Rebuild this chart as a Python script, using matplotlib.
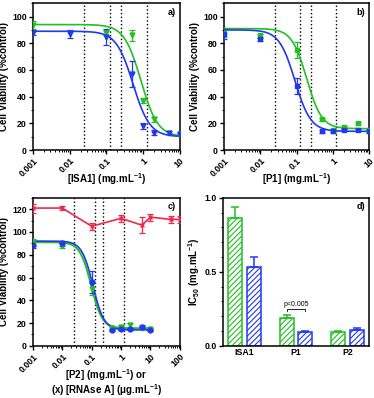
import numpy as np
import matplotlib
matplotlib.use('Agg')
import matplotlib.pyplot as plt
from matplotlib.ticker import FixedLocator, LogLocator, NullFormatter, MultipleLocator

plt.rcParams['font.family'] = ['Liberation Sans', 'DejaVu Sans']
plt.rcParams['font.weight'] = 'bold'
plt.rcParams['mathtext.fontset'] = 'custom'
plt.rcParams['mathtext.rm'] = 'Liberation Sans:bold'
plt.rcParams['mathtext.it'] = 'Liberation Sans:bold'
plt.rcParams['mathtext.bf'] = 'Liberation Sans:bold'
plt.rcParams['hatch.linewidth'] = 0.8

GREEN = '#22c022'
BLUE = '#2038f0'
RED = '#f0284a'

# concentrations (mg/mL)
conc = [0.001, 0.01, 0.1, 0.5, 1, 2, 5, 10]
conc_rnase = [0.001, 0.01, 0.1, 1, 5, 10, 50, 100]

# panel a - ISA1
isa1_green = [94, None, 88, 86, 37, 23, None, 12]
isa1_green_err = [3, 0, 2, 4, 2, 2, 0, 1]
isa1_blue = [88, 87, 85, 57, 18, 13, 13, 12]
isa1_blue_err = [2, 3, 6, 10, 2, 2, 1, 1]

# panel b - P1
p1_green = [88, 86, 75, 23, 15, 17, 20, 15]
p1_green_err = [3, 1, 6, 1, 1, 1, 1, 1]
p1_blue = [87, 83, 48, 14, 14, 15, 15, 14]
p1_blue_err = [4, 1, 6, 1, 1, 1, 1, 1]

# panel c - P2 and RNAse A
p2_green = [91, 88, 50, 16, 17, 18, 16, 15]
p2_green_err = [3, 2, 5, 1, 1, 2, 1, 1]
p2_blue = [89, 90, 56, 14, 15, 15, 17, 14]
p2_blue_err = [3, 2, 10, 1, 1, 1, 1, 1]
rnase = [121, 121, 105, 112, 106, 113, 111, 111]
rnase_err = [4, 2, 3, 3, 7, 3, 3, 3]

# fitted dose-response parameters: top, bottom, IC50, hill
fit_isa1_green = [94, 10, 0.87, 1.9]
fit_isa1_blue = [89, 10, 0.53, 1.9]
fit_p1_green = [91, 16, 0.19, 2.1]
fit_p1_blue = [90, 14, 0.09, 2.0]
fit_p2_green = [91, 15.5, 0.095, 2.3]
fit_p2_blue = [92, 14, 0.11, 2.3]

# dotted reference lines
vlines = [0.025, 0.125, 0.25, 1.25]

# panel d - IC50 bars
groups = ['ISA1', 'P1', 'P2']
ic50_green = [0.865, 0.187, 0.093]
ic50_green_err = [0.072, 0.023, 0.006]
ic50_blue = [0.53, 0.093, 0.11]
ic50_blue_err = [0.068, 0.007, 0.01]


def logistic(x, p):
    top, bottom, ic50, hill = p
    return bottom + (top - bottom) / (1 + (x / ic50) ** hill)


def pts(ax, x, y, e, color, marker):
    xs = [a for a, b in zip(x, y) if b is not None]
    ys = [b for b in y if b is not None]
    es = [c for b, c in zip(y, e) if b is not None]
    ax.errorbar(xs, ys, yerr=es, fmt=marker, color=color, ms=3.5,
                capsize=2, elinewidth=0.9, capthick=0.9, zorder=4)


def style_dose(ax, xmax, ymax, label, tag):
    ax.set_xscale('log')
    ax.set_xlim(0.001, xmax)
    ax.set_ylim(0, ymax)
    majors = [10.0 ** k for k in range(-3, int(np.log10(xmax)) + 1)]
    ax.xaxis.set_major_locator(FixedLocator(majors))
    ax.set_xticklabels(['%g' % m for m in majors], rotation=45, ha='right',
                       rotation_mode='anchor', fontsize=5.8, fontweight='bold')
    ax.xaxis.set_minor_locator(LogLocator(base=10, subs=np.arange(2, 10)))
    ax.xaxis.set_minor_formatter(NullFormatter())
    ax.yaxis.set_major_locator(MultipleLocator(20))
    ax.yaxis.set_minor_locator(MultipleLocator(10))
    for v in vlines:
        ax.axvline(v, color='black', ls=':', lw=1.0, zorder=1)
    ax.set_ylabel('Cell Viability (%control)', fontsize=7, fontweight='bold', labelpad=2)
    if label:
        ax.set_xlabel(label, fontsize=7, fontweight='bold')
        ax.xaxis.set_label_coords(0.5, -0.145)
    ax.text(0.97, 0.97, tag, transform=ax.transAxes, ha='right', va='top',
            fontsize=6.5, fontweight='bold')
    common(ax)


def common(ax):
    for s in ax.spines.values():
        s.set_linewidth(1.1)
    ax.tick_params(which='major', length=3, width=1, labelsize=6.3, pad=1.5)
    ax.tick_params(which='minor', length=1.5, width=0.7)
    for t in ax.get_yticklabels():
        t.set_fontweight('bold')


fig = plt.figure(figsize=(3.74, 3.98), dpi=100)
ax_a = fig.add_axes([0.088, 0.623, 0.393, 0.369])
ax_b = fig.add_axes([0.599, 0.623, 0.388, 0.369])
ax_c = fig.add_axes([0.088, 0.131, 0.393, 0.372])
ax_d = fig.add_axes([0.596, 0.131, 0.391, 0.372])

xx = np.logspace(-3, 1, 300)

# a
ax_a.plot(xx, logistic(xx, fit_isa1_green), color=GREEN, lw=1.2, zorder=3)
ax_a.plot(xx, logistic(xx, fit_isa1_blue), color=BLUE, lw=1.2, zorder=3)
pts(ax_a, conc, isa1_green, isa1_green_err, GREEN, 'v')
pts(ax_a, conc, isa1_blue, isa1_blue_err, BLUE, 'v')
style_dose(ax_a, 10, 110, '[ISA1] (mg.mL$^{-1}$)', 'a)')

# b
ax_b.plot(xx, logistic(xx, fit_p1_green), color=GREEN, lw=1.2, zorder=3)
ax_b.plot(xx, logistic(xx, fit_p1_blue), color=BLUE, lw=1.2, zorder=3)
pts(ax_b, conc, p1_green, p1_green_err, GREEN, 's')
pts(ax_b, conc, p1_blue, p1_blue_err, BLUE, 's')
style_dose(ax_b, 10, 110, '[P1] (mg.mL$^{-1}$)', 'b)')

# c
ax_c.plot(xx, logistic(xx, fit_p2_green), color=GREEN, lw=1.4, zorder=3)
ax_c.plot(xx, logistic(xx, fit_p2_blue), color=BLUE, lw=1.2, zorder=3)
pts(ax_c, conc, p2_green, p2_green_err, GREEN, 'v')
pts(ax_c, conc, p2_blue, p2_blue_err, BLUE, 'o')
ax_c.errorbar(conc_rnase, rnase, yerr=rnase_err, fmt='-x', color=RED, ms=3.5,
              lw=1.2, capsize=2, elinewidth=0.9, capthick=0.9, zorder=4)
style_dose(ax_c, 100, 130, None, 'c)')
# two-line x label of panel c
xc = 0.088 + 0.393 / 2
fig.text(xc, 0.058, '[P2] (mg.mL$^{-1}$) or', ha='center', va='center',
         fontsize=7, fontweight='bold')
fig.text(xc, 0.020, '(x) [RNAse A] ($\\mu$g.mL$^{-1}$)', ha='center', va='center',
         fontsize=7, fontweight='bold')

# d
pos = np.arange(len(groups))
w = 0.27
ax_d.bar(pos - 0.18, ic50_green, w, color='white', edgecolor=GREEN, hatch='//////',
         lw=1.1, zorder=2)
ax_d.bar(pos + 0.18, ic50_blue, w, color='white', edgecolor=BLUE, hatch='//////',
         lw=1.1, zorder=2)
ax_d.errorbar(pos - 0.18, ic50_green, yerr=[[0] * 3, ic50_green_err], fmt='none',
              ecolor=GREEN, capsize=3, elinewidth=1.1, capthick=1.1)
ax_d.errorbar(pos + 0.18, ic50_blue, yerr=[[0] * 3, ic50_blue_err], fmt='none',
              ecolor=BLUE, capsize=3, elinewidth=1.1, capthick=1.1)
ax_d.set_xlim(-0.42, 2.42)
ax_d.set_ylim(0, 1.0)
ax_d.set_xticks(pos)
ax_d.set_xticklabels(groups, fontsize=7, fontweight='bold')
ax_d.yaxis.set_major_locator(MultipleLocator(0.5))
ax_d.yaxis.set_minor_locator(MultipleLocator(0.1))
ax_d.yaxis.set_major_formatter(plt.FormatStrFormatter('%.1f'))
ax_d.set_ylabel('IC$_{50}$ (mg.mL$^{-1}$)', fontsize=7, fontweight='bold', labelpad=2)
ax_d.text(0.97, 0.97, 'd)', transform=ax_d.transAxes, ha='right', va='top',
          fontsize=6.5, fontweight='bold')
# significance bracket
by = 0.25
ax_d.plot([0.82, 0.82, 1.18, 1.18], [by - 0.015, by, by, by - 0.015], color='black', lw=0.6)
ax_d.text(1.0, by + 0.008, 'p<0.005', ha='center', va='bottom', fontsize=5,
          fontweight='normal')
common(ax_d)
ax_d.tick_params(axis='x', length=0)

fig.savefig('out.png', dpi=100)
